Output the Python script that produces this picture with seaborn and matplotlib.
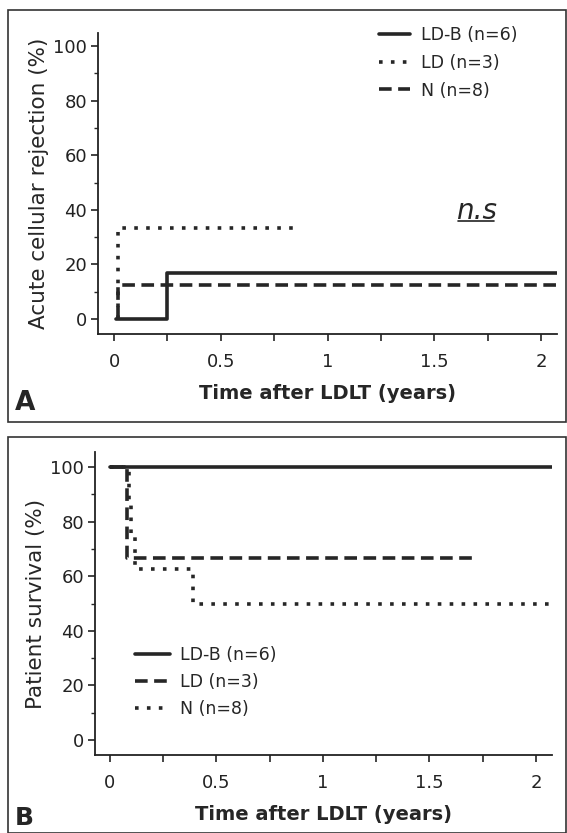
import matplotlib
matplotlib.use("Agg")
import matplotlib.pyplot as plt
from matplotlib.patches import Rectangle
from matplotlib.lines import Line2D
from matplotlib.ticker import MultipleLocator
import seaborn as sns
import pandas as pd

# Panel A: acute cellular rejection (step curves)
a_ldb_t = [0.01, 0.25, 0.25, 2.075]
a_ldb_v = [0.0, 0.0, 16.7, 16.7]
a_ld_t = [0.02, 0.02, 0.85]
a_ld_v = [0.0, 33.3, 33.3]
a_n_t = [0.02, 0.02, 2.075]
a_n_v = [0.0, 12.5, 12.5]

# Panel B: patient survival
b_ldb_t = [0.0, 2.075]
b_ldb_v = [100.0, 100.0]
b_ld_t = [0.0, 0.08, 0.08, 1.72]
b_ld_v = [100.0, 100.0, 66.7, 66.7]
b_n_t = [0.0, 0.09, 0.09, 0.10, 0.10, 0.12, 0.12, 0.39, 0.39, 2.075]
b_n_v = [100.0, 100.0, 87.5, 87.5, 75.0, 75.0, 62.5, 62.5, 50.0, 50.0]

labels = ["LD-B (n=6)", "LD (n=3)", "N (n=8)"]

sns.set_style("ticks")
plt.rcParams['font.family'] = ['DejaVu Sans']

LINE = "#262626"
LW = 2.6
SOLID = "-"
DOTTED = (0, (1, 2.3))
DASHED = (0, (3.5, 1.8))

W, H = 567, 833
fig = plt.figure(figsize=(W / 100, H / 100), dpi=100)

# panel frames
fig.patches.append(Rectangle((8 / W, 1 - 422 / H), 558 / W, 412 / H,
                             transform=fig.transFigure, fill=False, lw=1.2, ec="#333333"))
fig.patches.append(Rectangle((8 / W, 0), 558 / W, 1 - 437 / H,
                             transform=fig.transFigure, fill=False, lw=1.2, ec="#333333"))

axA = fig.add_axes([98 / W, 1 - 334 / H, 459 / W, 301 / H])
axB = fig.add_axes([95 / W, 1 - 755 / H, 457 / W, 303 / H])


def draw(ax, t, v, ls, label):
    df = pd.DataFrame({"t": t, "v": v})
    sns.lineplot(data=df, x="t", y="v", ax=ax, sort=False, estimator=None,
                 color=LINE, lw=LW, linestyle=ls, label=label)


draw(axA, a_ldb_t, a_ldb_v, SOLID, labels[0])
draw(axA, a_ld_t, a_ld_v, DOTTED, labels[1])
draw(axA, a_n_t, a_n_v, DASHED, labels[2])

draw(axB, b_ldb_t, b_ldb_v, SOLID, labels[0])
draw(axB, b_ld_t, b_ld_v, DASHED, labels[1])
draw(axB, b_n_t, b_n_v, DOTTED, labels[2])

axA.set_xlim(-0.075, 2.075)
axA.set_ylim(-5.5, 104.8)
axB.set_xlim(-0.07, 2.075)
axB.set_ylim(-5.5, 105.5)

for ax, ylab in [(axA, "Acute cellular rejection (%)"), (axB, "Patient survival (%)")]:
    ax.xaxis.set_minor_locator(MultipleLocator(0.25))
    ax.yaxis.set_major_locator(MultipleLocator(20))
    ax.yaxis.set_minor_locator(MultipleLocator(10))
    ax.set_xticks([0, 0.5, 1, 1.5, 2])
    ax.set_xticklabels(["0", "0.5", "1", "1.5", "2"])
    ax.tick_params(axis="both", which="major", labelsize=13, length=5, width=1.2,
                   direction="out", colors="#222222", pad=9)
    ax.tick_params(axis="x", which="minor", length=5, width=1.2)
    ax.tick_params(axis="y", which="minor", length=3, width=1.0)
    ax.tick_params(axis="y", which="major", pad=3)
    ax.set_xlabel("Time after LDLT (years)", fontsize=14, fontweight="bold", labelpad=9)
    ax.set_ylabel(ylab, fontsize=15.5, labelpad=3)
    for s in ["top", "right"]:
        ax.spines[s].set_visible(False)
    for s in ["left", "bottom"]:
        ax.spines[s].set_linewidth(1.3)
        ax.spines[s].set_color("#222222")

axA.legend(loc="center left", bbox_to_anchor=(379 / W, 1 - 63 / H),
           bbox_transform=fig.transFigure, frameon=False, fontsize=12.5, borderpad=0,
           borderaxespad=0, handlelength=1.8, handletextpad=0.6, labelspacing=0.55)
axB.legend(loc="center left", bbox_to_anchor=(135 / W, 1 - 682 / H),
           bbox_transform=fig.transFigure, frameon=False, fontsize=12.5, borderpad=0,
           borderaxespad=0, handlelength=2.0, handletextpad=0.6, labelspacing=0.5)

ns = axA.text(1.70, 39.5, "n.s", fontsize=20, style="italic", ha="center", va="center")

fig.text(15 / W, 1 - 403 / H, "A", fontsize=19, fontweight="bold", va="center")
fig.text(15 / W, 1 - 818 / H, "B", fontsize=18, fontweight="bold", va="center")

# underline the n.s text using its rendered extent
fig.canvas.draw()
bb = ns.get_window_extent().transformed(fig.transFigure.inverted())
fig.lines.append(Line2D([bb.x0 + 0.002, bb.x1 - 0.006], [bb.y0 + 0.005, bb.y0 + 0.005],
                        transform=fig.transFigure, color="#222222", lw=1.2))

fig.savefig("out.png", dpi=100)
